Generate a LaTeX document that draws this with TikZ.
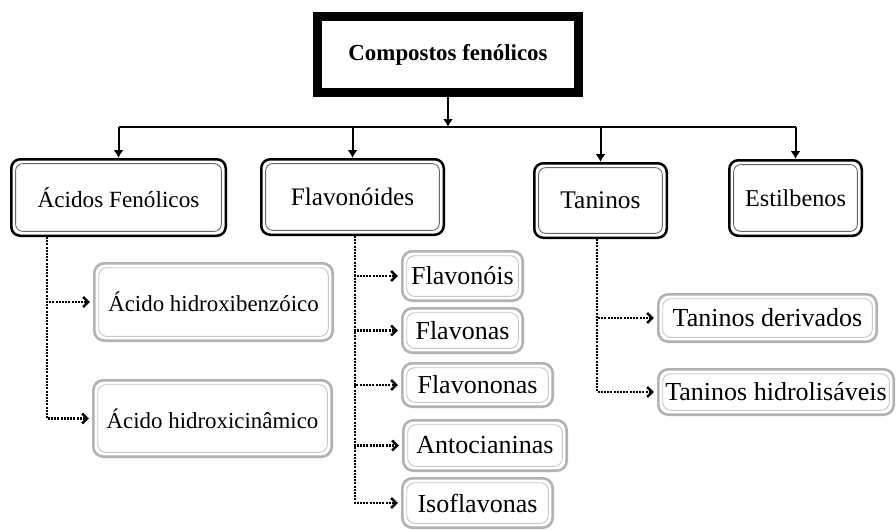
\documentclass[tikz,border=0pt]{standalone}
\usepackage{fontspec}
\setmainfont{Liberation Serif}
\usetikzlibrary{arrows.meta}
\tikzset{
  blackbox/.style 2 args={draw=black, line width=1.25pt, rounded corners=4.5pt, inner sep=0pt,
    minimum width=#1*0.5pt-1.25pt, minimum height=#2*0.5pt-1.25pt,
    path picture={\draw[line width=0.45pt, draw=black!60, rounded corners=3.5pt]
      ([shift={(2.2pt,-2.2pt)}]path picture bounding box.north west) rectangle
      ([shift={(-2.2pt,2.2pt)}]path picture bounding box.south east);}},
  greybox/.style 2 args={draw=black!30, line width=1.3pt, rounded corners=5pt, inner sep=0pt,
    minimum width=#1*0.5pt-1.3pt, minimum height=#2*0.5pt-1.3pt,
    path picture={\draw[line width=0.45pt, draw=black!22, rounded corners=4pt]
      ([shift={(2.2pt,-2.2pt)}]path picture bounding box.north west) rectangle
      ([shift={(-2.2pt,2.2pt)}]path picture bounding box.south east);}},
  topbox/.style={draw=black, line width=4.5pt, inner sep=0pt,
    minimum width=130.5pt, minimum height=38pt},
  fs/.style={font=\fontsize{#1}{#1}\selectfont},
  busline/.style={line width=1pt, draw=black},
  solidarrow/.style={line width=1pt, draw=black, -{Latex[length=4pt,width=5pt]}},
  dotarrow/.style={line width=1.2pt, dash pattern=on 1pt off 0.6pt,
    -{Straight Barb[length=2.6pt,width=5pt]}, shorten >=1.5pt},
}
\begin{document}
\begin{tikzpicture}[x=0.5pt,y=-0.5pt]
\useasboundingbox[fill=white] (0,0) rectangle (896,531);

% top
\node[topbox, fs=11.45] (top) at (448,54.5) {\bfseries Compostos fenólicos\hspace{5pt}};

% first level
\node[blackbox={217}{79}, fs=11.6] (acidos) at (118.5,197.5) {Ácidos Fenólicos};
\node[blackbox={185}{78}, fs=12.6] (flav) at (352.5,197) {Flavonóides};
\node[blackbox={135}{77}, fs=12.7] (tan) at (600.5,200.5) {Taninos};
\node[blackbox={135}{78}, fs=12.1] (est) at (795.5,198) {Estilbenos};

% second level
\node[greybox={241}{80}, fs=11.45] (hb) at (213.5,302) {Ácido hidroxibenzóico};
\node[greybox={241}{79}, fs=11.45] (hc) at (212.5,418.5) {Ácido hidroxicinâmico};

\node[greybox={123}{52}, fs=13] (fl1) at (462.5,276) {Flavonóis};
\node[greybox={123}{47}, fs=13] (fl2) at (462.5,330.5) {Flavonas};
\node[greybox={153}{46}, fs=13] (fl3) at (477.5,385) {Flavononas};
\node[greybox={166}{53}, fs=13] (fl4) at (485,445.5) {Antocianinas};
\node[greybox={153}{52}, fs=13] (fl5) at (477.5,503) {Isoflavonas};

\node[greybox={221}{50}, fs=13] (td) at (767.5,318) {Taninos derivados};
\node[greybox={238}{48}, fs=13] (th) at (776,392) {Taninos hidrolisáveis};

% solid connectors
\coordinate (bus) at (448,127);
\draw[solidarrow] (top) -- (bus);
\draw[busline] (bus -| acidos) -- (bus -| est);
\foreach \n in {acidos,flav,tan,est}
  \draw[solidarrow] (bus -| \n) -- (\n);

% dotted connectors
\coordinate (a0) at (47,237);
\draw[dotarrow] (a0) |- (hb);
\draw[dotarrow] (a0) |- (hc);

\coordinate (f0) at (355,236);
\foreach \n in {fl1,fl2,fl3,fl4,fl5}
  \draw[dotarrow] (f0) |- (\n);

\coordinate (t0) at (597,239);
\draw[dotarrow] (t0) |- (td);
\draw[dotarrow] (t0) |- (th);
\end{tikzpicture}
\end{document}
